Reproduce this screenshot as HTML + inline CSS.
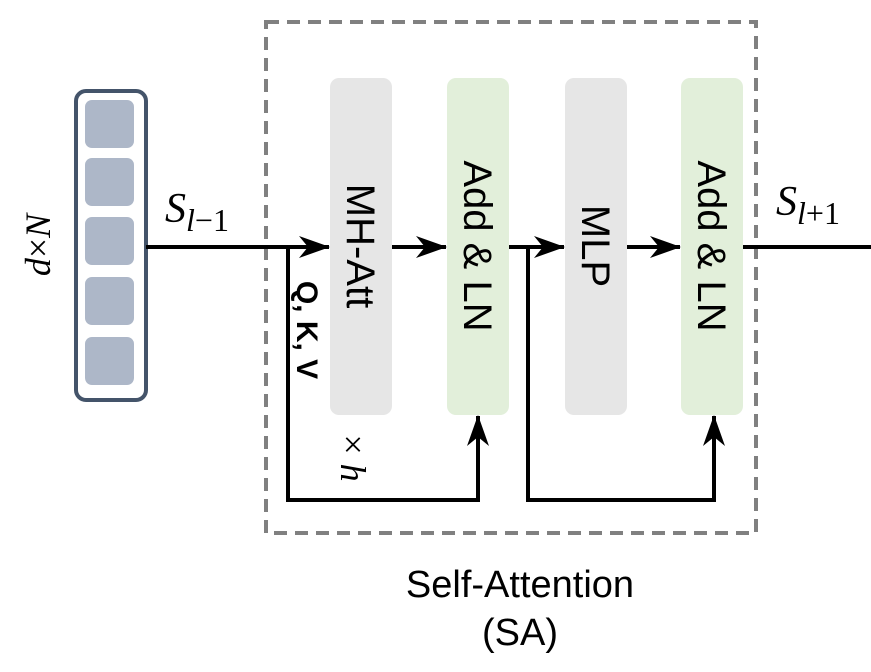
<!DOCTYPE html>
<html><head><meta charset="utf-8"><style>body{margin:0;background:#fff}</style></head><body>
<svg width="871" height="667" viewBox="0 0 871 667" xmlns="http://www.w3.org/2000/svg" font-family="Liberation Sans, sans-serif">
<defs><marker id="a" markerWidth="32" markerHeight="22" refX="30" refY="11" orient="auto" markerUnits="userSpaceOnUse"><path d="M0,0 L31,11 L0,22 L9,11 Z" fill="#000"/></marker></defs>
<rect x="266" y="22" width="490" height="511" fill="none" stroke="#808080" stroke-width="4" stroke-dasharray="13,8"/>
<rect x="76" y="91" width="70" height="309" rx="10" fill="#fff" stroke="#44546a" stroke-width="4"/>
<g fill="#adb7c8"><rect x="85" y="100" width="49" height="48" rx="7"/><rect x="85" y="158" width="49" height="48" rx="7"/><rect x="85" y="217" width="49" height="48" rx="7"/><rect x="85" y="277" width="49" height="48" rx="7"/><rect x="85" y="337" width="49" height="48" rx="7"/></g>
<rect x="330" y="78" width="62" height="337" rx="9" fill="#e6e6e6"/>
<rect x="447" y="78" width="62" height="337" rx="9" fill="#e2efda"/>
<rect x="565" y="78" width="62" height="337" rx="9" fill="#e6e6e6"/>
<rect x="681" y="78" width="62" height="337" rx="9" fill="#e2efda"/>
<g stroke="#000" stroke-width="4" fill="none">
<line x1="146" y1="247" x2="329" y2="247" marker-end="url(#a)"/>
<line x1="392" y1="247" x2="446" y2="247" marker-end="url(#a)"/>
<line x1="509" y1="247" x2="564" y2="247" marker-end="url(#a)"/>
<line x1="627" y1="247" x2="680" y2="247" marker-end="url(#a)"/>
<line x1="743" y1="247" x2="871" y2="247"/>
<polyline points="288,247 288,500 478,500 478,416" marker-end="url(#a)"/>
<polyline points="528,247 528,500 714,500 714,416" marker-end="url(#a)"/>
</g>
<g font-size="40" fill="#000">
<text transform="translate(347,246) rotate(90)" text-anchor="middle">MH-Att</text>
<text transform="translate(464,246) rotate(90)" text-anchor="middle">Add &amp; LN</text>
<text transform="translate(582,246) rotate(90)" text-anchor="middle">MLP</text>
<text transform="translate(698,246) rotate(90)" text-anchor="middle">Add &amp; LN</text>
</g>
<text transform="translate(297,330) rotate(90)" text-anchor="middle" font-size="30" font-weight="bold">Q, K, V</text>
<text transform="translate(341,458) rotate(90)" text-anchor="middle" font-family="Liberation Serif, serif" font-size="36">× <tspan font-style="italic">h</tspan></text>
<text transform="translate(50,245) rotate(-90)" text-anchor="middle" font-family="Liberation Serif, serif" font-size="36" font-style="italic">d<tspan font-style="normal">×</tspan>N</text>
<text x="165" y="222" font-family="Liberation Serif, serif" font-size="42" font-style="italic">S<tspan font-size="32" dy="9">l</tspan><tspan font-size="32" font-style="normal">−1</tspan></text>
<text x="776" y="215" font-family="Liberation Serif, serif" font-size="42" font-style="italic">S<tspan font-size="32" dy="9">l</tspan><tspan font-size="32" font-style="normal">+1</tspan></text>
<text x="520" y="597" text-anchor="middle" font-size="38">Self-Attention</text>
<text x="520" y="645" text-anchor="middle" font-size="38">(SA)</text>
</svg>
</body></html>
